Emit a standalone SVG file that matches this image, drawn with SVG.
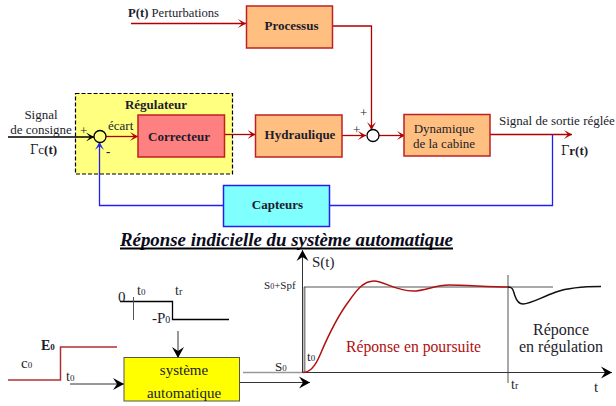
<svg xmlns="http://www.w3.org/2000/svg" width="616" height="406" viewBox="0 0 616 406">
<style>
text{font-family:"Liberation Serif",serif;fill:#1c1c2c;font-size:13px}
.b{font-weight:bold}
.m{text-anchor:middle}
.box{stroke:#c02020;stroke-width:1.5}
.or{fill:#ffbf80}
.r{fill:none;stroke:#b00000;stroke-width:1.3}
.bl{fill:none;stroke:#2020f0;stroke-width:1.3}
.k{fill:none;stroke:#000;stroke-width:1.3}
</style>
<defs>
<marker id="ar" markerUnits="userSpaceOnUse" markerWidth="10" markerHeight="10" refX="8" refY="5" orient="auto"><path d="M0 0.500L8 5L0 9.500L4 5Z" fill="#b00000"/></marker>
<marker id="ab" markerUnits="userSpaceOnUse" markerWidth="10" markerHeight="10" refX="8" refY="5" orient="auto"><path d="M0 0.500L8 5L0 9.500L4 5Z" fill="#2020f0"/></marker>
<marker id="ak" markerUnits="userSpaceOnUse" markerWidth="10" markerHeight="10" refX="8" refY="5" orient="auto"><path d="M0 0.500L8 5L0 9.500L4 5Z" fill="#000"/></marker>
<marker id="al" markerUnits="userSpaceOnUse" markerWidth="14" markerHeight="14" refX="12" refY="7" orient="auto"><path d="M1 1L12 7L1 13L5 7Z" fill="#000"/></marker>
</defs>

<g id="regulateur">
<rect x="75.500" y="93.500" width="157" height="80.500" fill="#ffff80" stroke="#000" stroke-width="1.200" stroke-dasharray="4 2"/>
<text x="156" y="109" class="b m">Régulateur</text>
</g>

<g id="connectors">
<path class="r" marker-end="url(#ar)" d="M131 23.500H246"/>
<path class="r" marker-end="url(#ar)" d="M333 26H371.500V130"/>
<path class="k" marker-end="url(#ak)" d="M8 137H94"/>
<path class="r" marker-end="url(#ar)" d="M106 136.500H138"/>
<path class="r" marker-end="url(#ar)" d="M224.500 134.500H255.500"/>
<path class="r" marker-end="url(#ar)" d="M342 135.500H366"/>
<path class="r" marker-end="url(#ar)" d="M379 135.500H405"/>
<path class="r" marker-end="url(#ar)" d="M490 134.500H572"/>
<path class="bl" d="M552.500 134.500V205.500H329.500"/>
<path class="bl" marker-end="url(#ab)" d="M223.500 205.500H99.500V142"/>
<path class="k" stroke-width="1" style="stroke:#333;stroke-width:1" marker-end="url(#al)" d="M178 331V358"/>
<path class="k" style="stroke:#333;stroke-width:1" marker-end="url(#al)" d="M70 384H124"/>
<path class="k" style="stroke:#333;stroke-width:1" marker-end="url(#al)" d="M239.500 382.500H310"/>
</g>

<g id="sum1"><circle cx="100" cy="136.500" r="6" fill="#ffff80" stroke="#000" stroke-width="1.300"/></g>
<g id="sum2"><circle cx="373" cy="135.500" r="6" fill="#fff" stroke="#000" stroke-width="1.300"/></g>

<g id="processus">
<rect class="box or" x="246.500" y="6" width="86" height="42"/>
<text x="291.500" y="30" class="b m">Processus</text>
</g>
<g id="correcteur">
<rect class="box" fill="#ff8080" x="138" y="115" width="86.500" height="42"/>
<text x="179" y="141" class="b m">Correcteur</text>
</g>
<g id="hydraulique">
<rect class="box or" x="255.500" y="115" width="86.500" height="42"/>
<text x="300" y="139" class="b m">Hydraulique</text>
</g>
<g id="dynamique">
<rect class="box or" x="404" y="114.500" width="86" height="41.500"/>
<text x="444" y="133" class="m">Dynamique</text>
<text x="444" y="148" class="m">de la cabine</text>
</g>
<g id="capteurs">
<rect x="223.500" y="185.500" width="106" height="41" fill="#80ffff" stroke="#2020f0" stroke-width="1.500"/>
<text x="277.500" y="209" class="b m">Capteurs</text>
</g>

<g id="labels">
<text x="128" y="17" textLength="91" lengthAdjust="spacingAndGlyphs"><tspan class="b">P(t)</tspan> Perturbations</text>
<text x="41" y="119" class="m">Signal</text>
<text x="41" y="134" class="m">de consigne</text>
<text x="30" y="154"><tspan font-family="'DejaVu Serif',serif" font-size="12">Γ</tspan><tspan>c</tspan><tspan class="b">(t)</tspan></text>
<text x="80" y="135">+</text>
<text x="108" y="130">écart</text>
<text x="106" y="156" class="b">-</text>
<text x="360" y="117">+</text>
<text x="353" y="134">+</text>
<text x="499" y="125">Signal de sortie réglée</text>
<text x="561" y="155"><tspan font-family="'DejaVu Serif',serif" font-size="12">Γ</tspan><tspan class="b">r(t)</tspan></text>
</g>

<text x="120" y="246" font-weight="bold" font-style="italic" style="font-size:19.500px;fill:#0a0a1a" textLength="333" lengthAdjust="spacingAndGlyphs">Réponse indicielle du système automatique</text>
<path d="M120 248.500H453" stroke="#000" stroke-width="2" fill="none"/>

<g id="perturbation-step">
<path class="k" d="M120 301.500H172.500V319.500H229"/>
<path d="M133.500 297V320" stroke="#555" stroke-width="1" fill="none"/>
<text x="118" y="302" style="font-size:15px">0</text>
<text x="137" y="295" style="font-size:14px">t<tspan style="font-size:9px">0</tspan></text>
<text x="175" y="295" style="font-size:14px">t<tspan style="font-size:10px">r</tspan></text>
<text x="152" y="323" style="font-size:15px">-P<tspan style="font-size:10px">0</tspan></text>
</g>

<g id="input-step">
<path d="M8 380H60.500V347H117" fill="none" stroke="#b03030" stroke-width="1.500"/>
<text x="41" y="350" class="b" style="font-size:14px">E<tspan style="font-size:9px">0</tspan></text>
<text x="21" y="368" style="font-size:15px">c<tspan style="font-size:9px">0</tspan></text>
<text x="66" y="381" style="font-size:14px">t<tspan style="font-size:9px">0</tspan></text>
</g>

<g id="systeme">
<rect x="124" y="357.500" width="115.500" height="43.500" fill="#ffff00" stroke="#555" stroke-width="1"/>
<text x="184" y="375" class="m" style="font-size:15px">système</text>
<text x="184" y="398" class="m" style="font-size:15px">automatique</text>
</g>

<g id="graph">
<path d="M243 372.500H302" stroke="#999" stroke-width="1.500" fill="none"/>
<path d="M304.500 287V372" stroke="#888" stroke-width="2" fill="none"/>
<path d="M304 287H553" stroke="#555" stroke-width="1" fill="none"/>
<path d="M508 275V383" stroke="#555" stroke-width="1" fill="none"/>
<path style="stroke:#333;stroke-width:1" fill="none" marker-end="url(#al)" d="M302.500 372.500V250"/>
<path style="stroke:#333;stroke-width:1" fill="none" marker-end="url(#al)" d="M302 372.500H612"/>
<path d="M303 372.500C310 372.500 315 367 320 355C328 336 340 313 349 301C356 291 363 281 374 281C384 281 395 291 413 291C425 291 435 285 449 285C465 285 490 287 508 287" fill="none" stroke="#b01010" stroke-width="1.500"/>
<path d="M508 287C513 287 513 290 515 296C517 302 520 304 523 304C530 304 540 298 556 292C570 287 585 286.500 601 286.500" fill="none" stroke="#111" stroke-width="1.500"/>
<text x="312" y="267" style="font-size:15px">S(t)</text>
<text x="264" y="289" style="font-size:11px">S<tspan style="font-size:8px">0</tspan>+Spf</text>
<text x="275" y="371" style="font-size:13px">S<tspan style="font-size:9px">0</tspan></text>
<text x="307" y="361" style="font-size:13px">t<tspan style="font-size:9px">0</tspan></text>
<text x="346" y="352" style="font-size:15.700px;fill:#b01010">Réponse en poursuite</text>
<text x="561" y="335" class="m" style="font-size:16px">Réponce</text>
<text x="561" y="352" class="m" style="font-size:16px">en régulation</text>
<text x="511" y="389" style="font-size:14px">t<tspan style="font-size:10px">r</tspan></text>
<text x="594" y="392" style="font-size:15px">t</text>
</g>
</svg>
